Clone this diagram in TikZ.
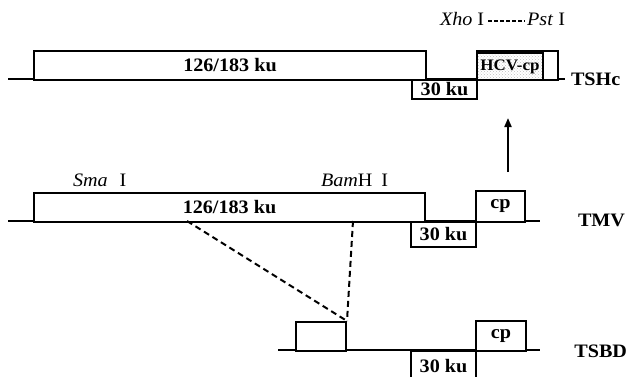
\documentclass[tikz,border=0pt]{standalone}
\usepackage{fontspec}
\setmainfont{Liberation Serif}[FakeStretch=1.06]
\usetikzlibrary{arrows.meta,patterns}
\begin{document}
\begin{tikzpicture}[x=1pt,y=-1pt,line width=2pt,
  gene/.style={draw,fill=white,inner sep=0pt,anchor=north west,
    font=\fontsize{19}{19}\selectfont\bfseries},
  lab/.style={inner sep=0pt,anchor=west,font=\fontsize{19}{19}\selectfont\bfseries},
  site/.style={inner sep=0pt,anchor=base west,font=\fontsize{19}{19}\selectfont},
  cut/.style={dash pattern=on 6pt off 4pt,line width=2pt}]
\useasboundingbox (0,0) rectangle (630,376);
% ---------- TSHc ----------
\coordinate (tshcL) at (8,79);
\coordinate (tshcR) at (565,79);
\draw (tshcL) -- (tshcR);
\node[gene,minimum width=392pt,minimum height=29pt] (tshcA) at (33,50) {126/183 ku};
\node[gene,minimum width=65pt,minimum height=19pt] (tshcB) at (411,79) {30 ku};
\node[gene,minimum width=81pt,minimum height=29pt] (tshcC) at (476,50) {};
\node[gene,minimum width=66pt,minimum height=27pt,pattern=crosshatch dots,pattern color=black!25,
  font=\fontsize{16}{16}\selectfont\bfseries] (tshcH) at (476,52) {HCV-cp};
\node[lab] (tshc) at (570,79) {TSHc};
\node[site] (xho) at (439,25) {\textit{Xho} I};
\node[site,anchor=base east] (pst) at (566,25) {\textit{Pst} I};
\draw[line width=1.2pt,dash pattern=on 4pt off 2pt]
  ([xshift=3pt,yshift=4pt]xho.base east) -- ([xshift=-1pt,yshift=4pt]pst.base west);
% ---------- arrow ----------
\coordinate (arrS) at (508,172);
\coordinate (arrE) at (508,118);
\draw[-{Triangle[length=9pt,width=7pt]}] (arrS) -- (arrE);
% ---------- TMV ----------
\coordinate (tmvL) at (8,221);
\coordinate (tmvR) at (540,221);
\draw (tmvL) -- (tmvR);
\node[gene,minimum width=391pt,minimum height=29pt] (tmvA) at (33,192) {126/183 ku};
\node[gene,minimum width=65pt,minimum height=25pt] (tmvB) at (410,221) {30 ku};
\node[gene,minimum width=49pt,minimum height=31pt] (tmvC) at (475,190) {cp};
\node[lab] (tmv) at (577,220) {TMV};
\node[site] (sma) at (72,186) {\textit{Sma}\hspace{12pt}I};
\node[site] (bam) at (320,186) {\textit{Bam}H\hspace{9pt}I};
\coordinate (smacut) at (187,221);
\coordinate (bamcut) at (353,221);
% ---------- TSBD ----------
\coordinate (tsbdL) at (278,350);
\coordinate (tsbdR) at (540,350);
\draw (tsbdL) -- (tsbdR);
\node[gene,minimum width=50pt,minimum height=29pt] (tsbdA) at (295,321) {};
\node[gene,minimum width=65pt,minimum height=30pt] (tsbdB) at (410,350) {30 ku};
\node[gene,minimum width=50pt,minimum height=30pt] (tsbdC) at (475,320) {cp};
\node[lab,anchor=east] (tsbd) at (628,351) {TSBD};
% ---------- dashed connectors ----------
\draw[cut] (smacut) -- (tsbdA.north east);
\draw[cut] (bamcut) -- (tsbdA.north east);
\end{tikzpicture}
\end{document}
